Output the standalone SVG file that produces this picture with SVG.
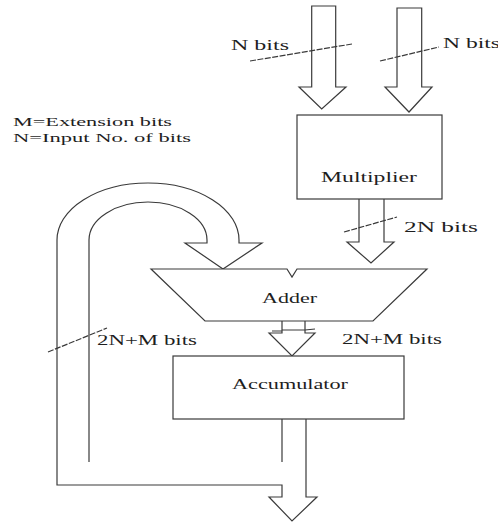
<svg xmlns="http://www.w3.org/2000/svg" width="498" height="522" viewBox="0 0 498 522">
<style>
.ln{fill:none;stroke:#3a3a3a;stroke-width:1.2;stroke-linejoin:miter}
.bx{fill:#fff;stroke:#3a3a3a;stroke-width:1.2}
.sl{fill:none;stroke:#3a3a3a;stroke-width:1.2;stroke-dasharray:6 1.5}
.t{font-family:"Liberation Serif","Times New Roman",serif;font-size:14px;fill:#1e1e1e}
.s{font-size:12px}
</style>
<rect width="498" height="522" fill="#fff"/>
<g id="legend">
<text class="t s" x="13" y="126" textLength="159" lengthAdjust="spacingAndGlyphs">M=Extension bits</text>
<text class="t s" x="13" y="142" textLength="178" lengthAdjust="spacingAndGlyphs">N=Input No. of bits</text>
</g>
<g id="connectors">
<path class="ln" d="M311.7,6 L335.7,6 L335.7,87 L346,87 L321.7,109 L299,87 L311.7,87 Z"/>
<path class="ln" d="M397,8 L421.7,8 L421.7,87 L432,87 L409,112 L385,87 L397,87 Z"/>
<path class="ln" d="M359,199 L359,242 L347,242 L371,263 L394,242 L384,242 L384,199"/>
<path class="ln" d="M282,321 L282,333 L269,333 L292,356 L315,333 L305,333 L305,321"/>
<path class="ln" d="M306,419 L306,497 L317,497 L292,521 L269,497 L282,497 L282,485 L57,485 L57,240 A91,57 0 0 1 239,240 L239,243 L262,243 L223,269 L185,243 L207,243 L207,240 A59,38 0 0 0 89,240 L89,462"/>
<path class="ln" d="M282,419 L282,462"/>
<path class="sl" d="M250,61 L352,44"/>
<path class="sl" d="M380,61 L439,47"/>
<path class="sl" d="M344,232 L397,217"/>
<path class="ln" d="M272,331 L282,331 M282,330 L305,330 M305,330 L315,329"/>
<path class="sl" d="M48,352 L107,328"/>
<text class="t" x="231" y="50" textLength="58" lengthAdjust="spacingAndGlyphs">N bits</text>
<text class="t" x="443" y="48" textLength="57" lengthAdjust="spacingAndGlyphs">N bits</text>
<text class="t" x="404" y="232" textLength="74" lengthAdjust="spacingAndGlyphs">2N bits</text>
<text class="t" x="342" y="344" textLength="100" lengthAdjust="spacingAndGlyphs">2N+M bits</text>
<text class="t" x="97" y="345" textLength="100" lengthAdjust="spacingAndGlyphs">2N+M bits</text>
</g>
<g id="multiplier">
<rect class="bx" x="297" y="115" width="145" height="84"/>
<text class="t" x="321" y="182" textLength="96" lengthAdjust="spacingAndGlyphs">Multiplier</text>
</g>
<g id="adder">
<path class="bx" d="M151,269 L287,269 L292,277 L297,269 L427,269 L373,321 L205,321 Z"/>
<text class="t" x="262" y="303" textLength="55" lengthAdjust="spacingAndGlyphs">Adder</text>
</g>
<g id="accumulator">
<rect class="bx" x="173" y="356" width="231" height="63"/>
<text class="t" x="232" y="389" textLength="116" lengthAdjust="spacingAndGlyphs">Accumulator</text>
</g>
</svg>
